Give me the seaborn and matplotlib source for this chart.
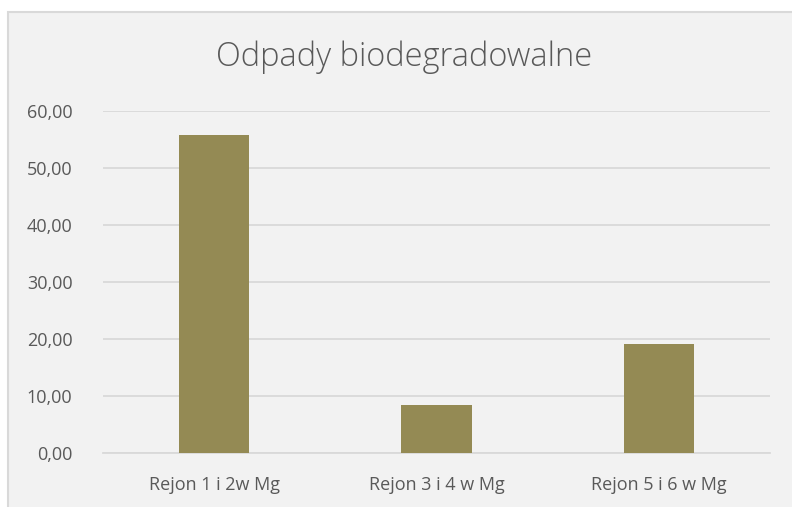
import matplotlib
matplotlib.use("Agg")
import matplotlib.pyplot as plt
import matplotlib.ticker as mticker
from matplotlib.patches import Rectangle
import seaborn as sns
import pandas as pd

# data
rejony = ["Rejon 1 i 2w Mg", "Rejon 3 i 4 w Mg", "Rejon 5 i 6 w Mg"]
wartosci = [55.7, 8.4, 19.1]
y_ticks = [0, 10, 20, 30, 40, 50, 60]

df = pd.DataFrame({"rejon": rejony, "mg": wartosci})

sns.set_style("white")
plt.rcParams["font.family"] = ["Open Sans", "DejaVu Sans"]

text_col = "#595959"
fig = plt.figure(figsize=(7.92, 5.07), dpi=100, facecolor="white")

# chart area with light border like the spreadsheet frame
frame = Rectangle((8 / 792, -0.05), 1.1, 1 - 12 / 507 + 0.05, transform=fig.transFigure,
                  facecolor="#F2F2F2", edgecolor="#D9D9D9", linewidth=1.5, zorder=-10)
fig.patches.append(frame)

ax = fig.add_axes([103 / 792, 1 - 452.7 / 507, (770 - 103) / 792, (452.7 - 110.7) / 507])
ax.set_facecolor("none")
ax.set_zorder(5)

sns.barplot(data=df, x="rejon", y="mg", color="#948A54", width=0.315, saturation=1,
            linewidth=0, ax=ax, zorder=3)

ax.set_ylim(0, 60)
ax.set_yticks(y_ticks)
ax.yaxis.set_major_formatter(mticker.FuncFormatter(lambda v, p: f"{v:.2f}".replace(".", ",")))
ax.yaxis.grid(True, color="#D9D9D9", linewidth=1.3, zorder=0)
ax.set_axisbelow(True)
for s in ["top", "right", "left"]:
    ax.spines[s].set_visible(False)
ax.spines["bottom"].set_color("#D9D9D9")
ax.spines["bottom"].set_linewidth(1.3)
ax.tick_params(axis="both", length=0, colors=text_col, labelsize=13)
ax.tick_params(axis="y", pad=22)
ax.tick_params(axis="x", pad=17)
ax.set_xlabel("")
ax.set_ylabel("")

fig.text(404 / 792, 1 - 57 / 507, "Odpady biodegradowalne", ha="center", va="center",
         fontsize=23.5, color=text_col, fontweight="light", zorder=6)

fig.savefig("out.png", dpi=100, facecolor="white")
